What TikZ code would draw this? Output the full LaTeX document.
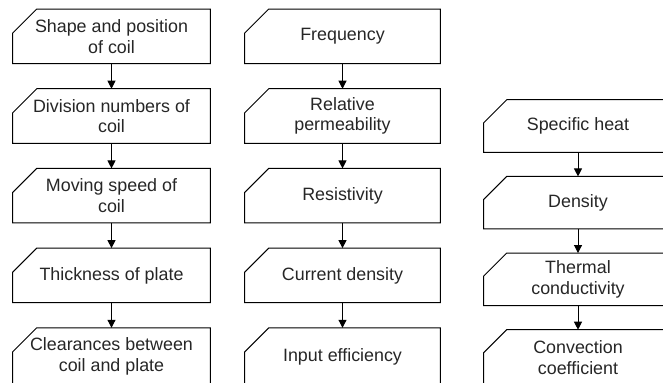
\documentclass[tikz,border=0pt]{standalone}
\usepackage{fontspec}
\setmainfont{Liberation Sans}
\usetikzlibrary{arrows.meta}
\newcommand\chamf[2]{\draw[boxline] (#1.south west) -- ([yshift=-#2]#1.north west) -- ([xshift=#2]#1.north west) -- (#1.north east) -- (#1.south east) -- cycle;}
\begin{document}
\begin{tikzpicture}[x=0.75pt,y=-0.75pt,
  cbox/.style={draw=none, inner sep=0pt, align=center,
    font=\fontsize{13.4pt}{15.5pt}\selectfont, text=black!85},
  lbox/.style={cbox, minimum width=147.75pt, minimum height=40.5pt},
  mbox/.style={cbox, minimum width=146.25pt, minimum height=40.5pt},
  rbox/.style={cbox, minimum width=141pt, minimum height=39pt},
  lastbox/.style={minimum height=42.5pt},
  rlastbox/.style={minimum height=41pt},
  boxline/.style={draw=black, line width=0.75pt},
  conn/.style={draw=black, line width=0.75pt, -{Triangle[length=6pt,width=6pt]}}]
\useasboundingbox (0,0) rectangle (663,382);
\clip (0,0) rectangle (663,382);
% left column
\node[lbox] (l1) at (111.5,36.3) {Shape and position\\of coil};
\node[lbox] (l2) at (111.5,116) {Division numbers of\\coil};
\node[lbox] (l3) at (111.5,195.7) {Moving speed of\\coil};
\node[lbox] (l4) at (111.5,275.4) {Thickness of plate};
\node[lbox,lastbox] (l5) at (111.5,356.4) {Clearances between\\coil and plate};
% middle column
\node[mbox] (m1) at (342.5,36.3) {Frequency};
\node[mbox] (m2) at (342.5,116) {Relative\\permeability};
\node[mbox] (m3) at (342.5,195.7) {Resistivity};
\node[mbox] (m4) at (342.5,275.4) {Current density};
\node[mbox,lastbox] (m5) at (342.5,356.4) {Input efficiency};
% right column
\node[rbox] (r1) at (578,126) {Specific heat};
\node[rbox] (r2) at (578,202.7) {Density};
\node[rbox] (r3) at (578,279.3) {Thermal\\conductivity};
\node[rbox,rlastbox] (r4) at (578,357.3) {Convection\\coefficient};
\foreach \n in {l1,l2,l3,l4,l5,m1,m2,m3,m4,m5}{\chamf{\n}{18pt}}
\foreach \n in {r1,r2,r3,r4}{\chamf{\n}{17.25pt}}
\draw[conn] (l1) -- (l2);
\draw[conn] (l2) -- (l3);
\draw[conn] (l3) -- (l4);
\draw[conn] (l4) -- (l5);
\draw[conn] (m1) -- (m2);
\draw[conn] (m2) -- (m3);
\draw[conn] (m3) -- (m4);
\draw[conn] (m4) -- (m5);
\draw[conn] (r1) -- (r2);
\draw[conn] (r2) -- (r3);
\draw[conn] (r3) -- (r4);
\end{tikzpicture}
\end{document}
